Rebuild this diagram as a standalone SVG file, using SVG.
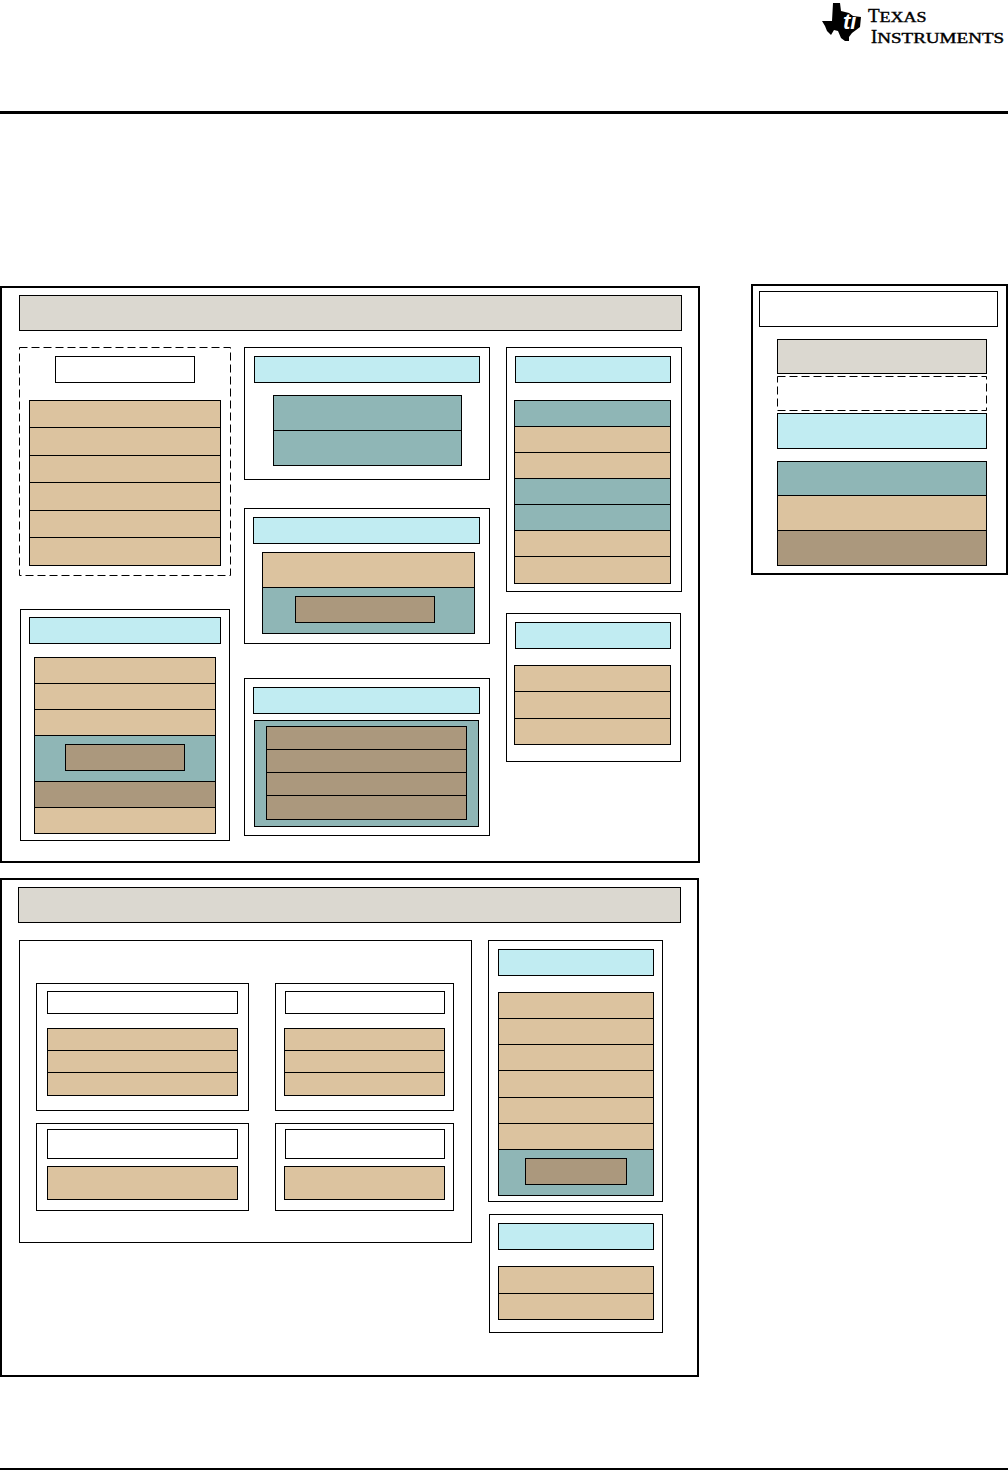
<svg xmlns="http://www.w3.org/2000/svg" width="1008" height="1472" viewBox="0 0 1008 1472">
<style>
rect{stroke:#000;stroke-width:1;fill:#fff}
.frame{stroke-width:2}
.d{stroke-dasharray:8 4}
.g{fill:#DBD8D0}.c{fill:#C1ECF2}.t{fill:#8FB6B6}.n{fill:#DCC39F}.b{fill:#AB987D}
.logo{font-family:"Liberation Serif",serif;fill:#000;stroke:#000;stroke-width:.4}
</style>
<rect width="1008" height="1472" style="fill:#fff;stroke:none"/>
<g id="page">
<rect x="0" y="111" width="1008" height="3" style="fill:#000;stroke:none"/>
<rect x="0" y="1468" width="1008" height="2" style="fill:#000;stroke:none"/>
</g>
<g id="logo">
<path d="M822 21 L832 21 L833 3 L840 3 L841 11 L849 13 L853 16 L861 17 L860 27 L852 33 L849 37 L849 41 L845 41 L841 38 L838 31 L834 30 L831 35 L827 31 L825 26 Z" fill="#000"/>
<text x="843" y="29" font-family="Liberation Sans,sans-serif" font-size="22" font-style="italic" font-weight="700" fill="#fff">ti</text>
<text class="logo" x="868" y="22" font-size="19">T<tspan font-size="15" textLength="47" lengthAdjust="spacingAndGlyphs">EXAS</tspan></text>
<text class="logo" x="871" y="43" font-size="18.5">I<tspan font-size="15" textLength="127" lengthAdjust="spacingAndGlyphs">NSTRUMENTS</tspan></text>
</g>
<g id="frame-top"><rect class="frame" x="1" y="287" width="698" height="575"/><rect class="g" x="19.5" y="295.5" width="662" height="35"/></g>
<g id="block-a">
<rect class="d" x="19.5" y="347.5" width="211" height="228"/>
<rect x="55.5" y="356.5" width="139" height="26"/>
<rect class="n" x="29.5" y="400.5" width="191" height="27"/><rect class="n" x="29.5" y="427.5" width="191" height="28"/><rect class="n" x="29.5" y="455.5" width="191" height="27"/><rect class="n" x="29.5" y="482.5" width="191" height="28"/><rect class="n" x="29.5" y="510.5" width="191" height="27"/><rect class="n" x="29.5" y="537.5" width="191" height="28"/>
</g>
<g id="block-b">
<rect x="20.5" y="609.5" width="209" height="231"/>
<rect class="c" x="29.5" y="617.5" width="191" height="26"/>
<rect class="n" x="34.5" y="657.5" width="181" height="26"/><rect class="n" x="34.5" y="683.5" width="181" height="26"/><rect class="n" x="34.5" y="709.5" width="181" height="26"/>
<rect class="t" x="34.5" y="735.5" width="181" height="46"/><rect class="b" x="65.5" y="744.5" width="119" height="26"/>
<rect class="b" x="34.5" y="781.5" width="181" height="26"/><rect class="n" x="34.5" y="807.5" width="181" height="26"/>
</g>
<g id="block-c">
<rect x="244.5" y="347.5" width="245" height="132"/>
<rect class="c" x="254.5" y="356.5" width="225" height="26"/>
<rect class="t" x="273.5" y="395.5" width="188" height="35"/><rect class="t" x="273.5" y="430.5" width="188" height="35"/>
</g>
<g id="block-d">
<rect x="244.5" y="508.5" width="245" height="135"/>
<rect class="c" x="253.5" y="517.5" width="226" height="26"/>
<rect class="n" x="262.5" y="552.5" width="212" height="35"/><rect class="t" x="262.5" y="587.5" width="212" height="46"/><rect class="b" x="295.5" y="596.5" width="139" height="26"/>
</g>
<g id="block-e">
<rect x="244.5" y="678.5" width="245" height="157"/>
<rect class="c" x="253.5" y="687.5" width="226" height="26"/>
<rect class="t" x="254.5" y="720.5" width="224" height="106"/>
<rect class="b" x="266.5" y="726.5" width="200" height="23"/><rect class="b" x="266.5" y="749.5" width="200" height="23"/><rect class="b" x="266.5" y="772.5" width="200" height="23"/><rect class="b" x="266.5" y="795.5" width="200" height="24"/>
</g>
<g id="block-f">
<rect x="506.5" y="347.5" width="175" height="244"/>
<rect class="c" x="515.5" y="356.5" width="155" height="26"/>
<rect class="t" x="514.5" y="400.5" width="156" height="26"/><rect class="n" x="514.5" y="426.5" width="156" height="26"/><rect class="n" x="514.5" y="452.5" width="156" height="26"/><rect class="t" x="514.5" y="478.5" width="156" height="26"/><rect class="t" x="514.5" y="504.5" width="156" height="26"/><rect class="n" x="514.5" y="530.5" width="156" height="26"/><rect class="n" x="514.5" y="556.5" width="156" height="27"/>
</g>
<g id="block-g">
<rect x="506.5" y="613.5" width="174" height="148"/>
<rect class="c" x="515.5" y="622.5" width="155" height="26"/>
<rect class="n" x="514.5" y="665.5" width="156" height="26"/><rect class="n" x="514.5" y="691.5" width="156" height="27"/><rect class="n" x="514.5" y="718.5" width="156" height="26"/>
</g>
<g id="legend">
<rect class="frame" x="752" y="285" width="255" height="289"/>
<rect x="759.5" y="291.5" width="238" height="35"/>
<rect class="g" x="777.5" y="339.5" width="209" height="34"/>
<rect class="d" x="777.5" y="376.5" width="209" height="34"/>
<rect class="c" x="777.5" y="413.5" width="209" height="35"/>
<rect class="t" x="777.5" y="461.5" width="209" height="34"/><rect class="n" x="777.5" y="495.5" width="209" height="35"/><rect class="b" x="777.5" y="530.5" width="209" height="35"/>
</g>
<g id="frame-bottom"><rect class="frame" x="1" y="879" width="697" height="497"/><rect class="g" x="18.5" y="887.5" width="662" height="35"/></g>
<g id="block-h">
<rect x="19.5" y="940.5" width="452" height="302"/>
<rect x="36.5" y="983.5" width="212" height="127"/>
<rect x="47.5" y="991.5" width="190" height="22"/>
<rect class="n" x="47.5" y="1028.5" width="190" height="22"/><rect class="n" x="47.5" y="1050.5" width="190" height="22"/><rect class="n" x="47.5" y="1072.5" width="190" height="23"/>
<rect x="275.5" y="983.5" width="178" height="127"/>
<rect x="285.5" y="991.5" width="159" height="22"/>
<rect class="n" x="284.5" y="1028.5" width="160" height="22"/><rect class="n" x="284.5" y="1050.5" width="160" height="22"/><rect class="n" x="284.5" y="1072.5" width="160" height="23"/>
<rect x="36.5" y="1123.5" width="212" height="87"/>
<rect x="47.5" y="1129.5" width="190" height="29"/>
<rect class="n" x="47.5" y="1166.5" width="190" height="33"/>
<rect x="275.5" y="1123.5" width="178" height="87"/>
<rect x="285.5" y="1129.5" width="159" height="29"/>
<rect class="n" x="284.5" y="1166.5" width="160" height="33"/>
</g>
<g id="block-i">
<rect x="488.5" y="940.5" width="174" height="261"/>
<rect class="c" x="498.5" y="949.5" width="155" height="26"/>
<rect class="n" x="498.5" y="992.5" width="155" height="26"/><rect class="n" x="498.5" y="1018.5" width="155" height="26"/><rect class="n" x="498.5" y="1044.5" width="155" height="26"/><rect class="n" x="498.5" y="1070.5" width="155" height="27"/><rect class="n" x="498.5" y="1097.5" width="155" height="26"/><rect class="n" x="498.5" y="1123.5" width="155" height="26"/>
<rect class="t" x="498.5" y="1149.5" width="155" height="46"/><rect class="b" x="525.5" y="1158.5" width="101" height="26"/>
</g>
<g id="block-j">
<rect x="489.5" y="1214.5" width="173" height="118"/>
<rect class="c" x="498.5" y="1223.5" width="155" height="26"/>
<rect class="n" x="498.5" y="1266.5" width="155" height="27"/><rect class="n" x="498.5" y="1293.5" width="155" height="26"/>
</g>
<g id="connectors"></g>
</svg>
